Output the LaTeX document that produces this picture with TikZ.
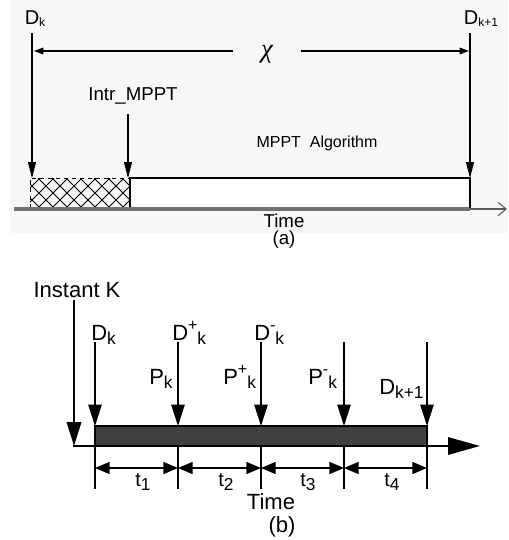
\documentclass[tikz,border=0pt]{standalone}
\usepackage{fontspec}
\setmainfont{Liberation Sans}
\newfontfamily\chifont{Liberation Serif}
\usetikzlibrary{arrows.meta}
\newcommand\fs[1]{\fontsize{#1}{#1}\selectfont}
\newcommand\bsub[1]{\raisebox{-3.5pt}{\fs{13}#1}}
\newcommand\bsup[1]{\raisebox{7pt}{\fs{12}#1}}
\tikzset{
  lbl/.style={inner sep=0pt, font=\fs{14}},
  blbl/.style={inner sep=0pt, font=\fs{16.5}},
  topline/.style={line width=0.8pt},
  toparrow/.style={line width=0.8pt, -{Triangle[length=12pt,width=6pt]}},
  botarrow/.style={line width=1.1pt, -{Triangle[length=16pt,width=10pt]}},
  botdim/.style={line width=1.1pt, {Triangle[length=11pt,width=9pt]}-{Triangle[length=11pt,width=9pt]}},
  tick/.style={line width=1.1pt},
}
\begin{document}
\begin{tikzpicture}[x=0.75pt,y=-0.75pt]
\useasboundingbox (0,0) rectangle (508,540);
% ---------- (a) ----------
\fill[gray!6] (10,0) rectangle (508,233);
\node[lbl, font=\fs{15}] (dk) at (35,19) {D\raisebox{-1.5pt}{\fs{9}k}};
\node[lbl, font=\fs{15}] (dk1) at (481,19) {D\raisebox{-1.5pt}{\fs{9}k+1}};
\node[lbl, font=\chifont\itshape\fs{20}] (chi) at (267,54) {χ};
\node[lbl] (intr) at (133,96) {Intr\_MPPT};
\node[lbl, font=\fs{12}] (alg) at (317,143) {MPPT\ \ Algorithm};
\node[lbl] (timea) at (284,221) {Time};
\node[lbl] (capa) at (284,240) {(a)};
% hatched box
\coordinate (h1) at (30,178);
\coordinate (h2) at (130,208);
\begin{scope}
\clip (h1) rectangle (h2);
\foreach \i in {-60,-46,...,160} {
  \draw[line width=0.6pt] (\i,208) -- ++(30,-30);
  \draw[line width=0.6pt] (\i,178) -- ++(30,30);
}
\end{scope}
\draw[line width=0.7pt, dashed] (30,208) -- (30,178) -- (130,178);
\draw[line width=0.8pt] (130,178) -- (130,208);
% algorithm box
\draw[line width=0.8pt, fill=white] (130,178) rectangle (470,208);
% time axis
\coordinate (axs) at (14,209);
\coordinate (axe) at (507,209);
\draw[line width=2.5pt, gray!90!black] (axs) -- (470,209);
\draw[line width=0.8pt, gray!70!black, -{Straight Barb[length=6pt,width=10pt]}] (470,209) -- (axe);
% vertical lines
\coordinate (dkt) at (32,33);
\coordinate (dkb) at (32,178);
\coordinate (dk1t) at (470,33);
\coordinate (dk1b) at (470,178);
\coordinate (dk1e) at (470,208);
\coordinate (intt) at (128,114);
\coordinate (intb) at (128,178);
\draw[toparrow] (dkt) -- (dkb);
\draw[toparrow] (dk1t) -- (dk1b);
\draw[topline] (dk1b) -- (dk1e);
\draw[toparrow] (intt) -- (intb);
% chi arrows
\coordinate (c1) at (34,51);
\coordinate (c2) at (233,51);
\coordinate (c3) at (301,51);
\coordinate (c4) at (469,51);
\draw[line width=0.8pt, -{Triangle[length=7pt,width=5pt]}] (c2) -- (c1);
\draw[line width=0.8pt, -{Triangle[length=7pt,width=5pt]}] (c3) -- (c4);
% ---------- (b) ----------
\node[blbl] (ik) at (77,290) {Instant K};
\node[blbl, anchor=base west] (bdk) at (91,340) {D\bsub{k}};
\node[blbl, anchor=base west] (bdp) at (172,340) {D\bsup{+}\bsub{k}};
\node[blbl, anchor=base west] (bdm) at (254,340) {D\bsup{-}\bsub{k}};
\node[blbl, anchor=base west] (bpk) at (149,384) {P\bsub{k}};
\node[blbl, anchor=base west] (bpp) at (223,384) {P\bsup{+}\bsub{k}};
\node[blbl, anchor=base west] (bpm) at (308,384) {P\bsup{-}\bsub{k}};
\node[blbl, anchor=base west] (bdk1) at (379,394) {D\bsub{k+1}};
\node[blbl] (timeb) at (271,502) {Time};
\node[blbl] (capb) at (282,527) {(b)};
% bar
\draw[line width=1.1pt, fill=black!75] (95,426) rectangle (427,446);
% axis
\coordinate (ikt) at (74,300);
\coordinate (ikb) at (74,446);
\coordinate (baxe) at (480,446);
\draw[line width=1.6pt, -{Triangle[length=24pt,width=13pt]}] (73,446) -- (baxe);
\draw[line width=1.1pt, -{Triangle[length=18pt,width=11pt]}] (ikt) -- (ikb);
% vertical arrows and ticks
\foreach \x/\n in {95/a,178/b,261/c,344/d,427/e} {
  \coordinate (v\n t) at (\x,342);
  \coordinate (v\n b) at (\x,426);
  \coordinate (v\n d) at (\x,489);
  \coordinate (v\n m) at (\x,468);
  \draw[botarrow] (v\n t) -- (v\n b);
  \draw[tick] (\x,446) -- (v\n d);
}
\draw[botdim] (vam) -- (vbm);
\draw[botdim] (vbm) -- (vcm);
\draw[botdim] (vcm) -- (vdm);
\draw[botdim] (vdm) -- (vem);
\node[blbl, font=\fs{15}] (t1) at (143,482) {t\bsub{1}};
\node[blbl, font=\fs{15}] (t2) at (226,482) {t\bsub{2}};
\node[blbl, font=\fs{15}] (t3) at (308,482) {t\bsub{3}};
\node[blbl, font=\fs{15}] (t4) at (392,482) {t\bsub{4}};
\end{tikzpicture}
\end{document}
